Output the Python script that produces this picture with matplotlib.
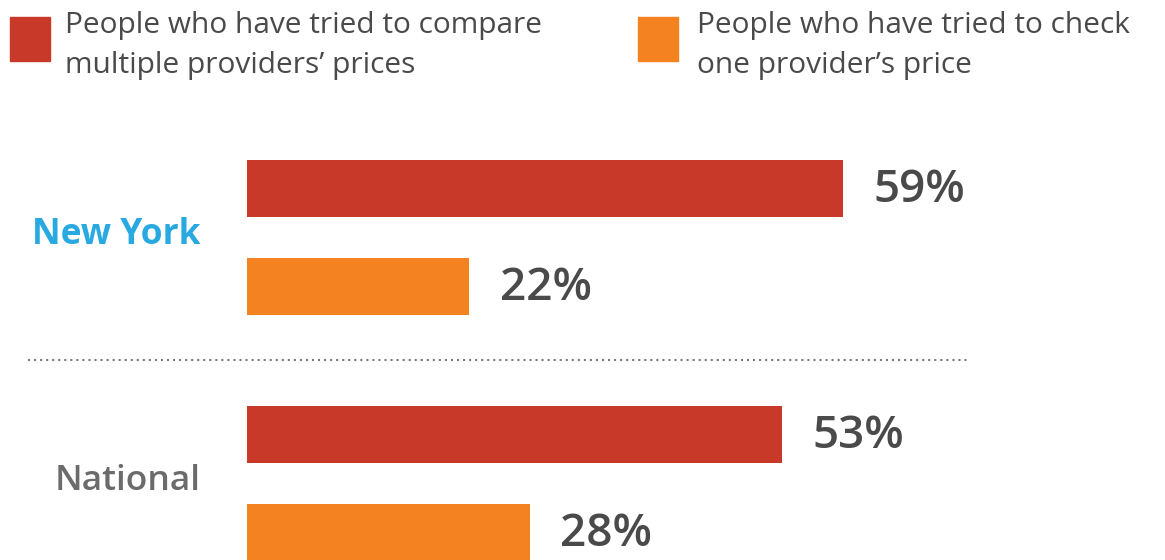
import matplotlib.pyplot as plt
import matplotlib.patches as mpatches

plt.rcParams['font.family'] = ['Open Sans', 'DejaVu Sans']

# Dados
grupos = ["New York", "National"]
comparar = [59, 53]   # comparou vários prestadores
checar = [22, 28]     # checou um prestador
series_labels = ["People who have tried to compare\nmultiple providers\u2019 prices",
                 "People who have tried to check\none provider\u2019s price"]

cor_vermelho = "#C9392A"
cor_laranja = "#F58220"
cor_texto = "#4a4a4a"
cor_grupos = ["#29A9E1", "#6b6b6b"]

W, H = 1165, 560
fig = plt.figure(figsize=(W / 100, H / 100), dpi=100)
ax = fig.add_axes([0, 0, 1, 1])

# escala: 0% em x=247px, 10.1 px por ponto percentual
px_por_pct = 10.1
x0 = 247
ax.set_xlim(-x0 / px_por_pct, (W - x0) / px_por_pct)
# escala vertical: 1 grupo = 246 px
grupo_px = 246
ax.set_ylim((H - 237.25) / grupo_px, -237.25 / grupo_px)

offset = 97.5 / grupo_px / 2
altura = 57 / grupo_px

for i, g in enumerate(grupos):
    y_r = i - offset
    y_o = i + offset
    ax.barh(y_r, comparar[i], height=altura, color=cor_vermelho)
    ax.barh(y_o, checar[i], height=altura, color=cor_laranja)
    ax.text(comparar[i] + 3.0, y_r + 0.01, f"{comparar[i]}%", ha="left", va="center",
            fontsize=33, fontweight="semibold", color=cor_texto)
    ax.text(checar[i] + 3.0, y_o + 0.01, f"{checar[i]}%", ha="left", va="center",
            fontsize=33, fontweight="semibold", color=cor_texto)
    ax.text(-4.6, i - 0.01, g, ha="right", va="center", fontsize=25.5,
            fontweight="bold" if i == 0 else "semibold", color=cor_grupos[i])

# linha pontilhada separando os grupos
ax.axhline(0.5, xmin=28 / W, xmax=968 / W, color="#7a7a7a", linewidth=1.5,
           linestyle=(0, (1, 1.9)))

ax.axis("off")

# Legenda manual
cores = [cor_vermelho, cor_laranja]
quad_x = [10, 638]
texto_x = [65, 697]
for k in range(2):
    fig.patches.append(mpatches.Rectangle((quad_x[k] / W, 1 - 61 / H), 40 / W, 44 / H,
                                          transform=fig.transFigure, color=cores[k]))
    linhas = series_labels[k].split("\n")
    for j, linha in enumerate(linhas):
        fig.text(texto_x[k] / W, 1 - (33 + 40 * j) / H, linha, ha="left", va="baseline",
                 fontsize=21.5, color=cor_texto)

fig.savefig("out.png", dpi=100)
